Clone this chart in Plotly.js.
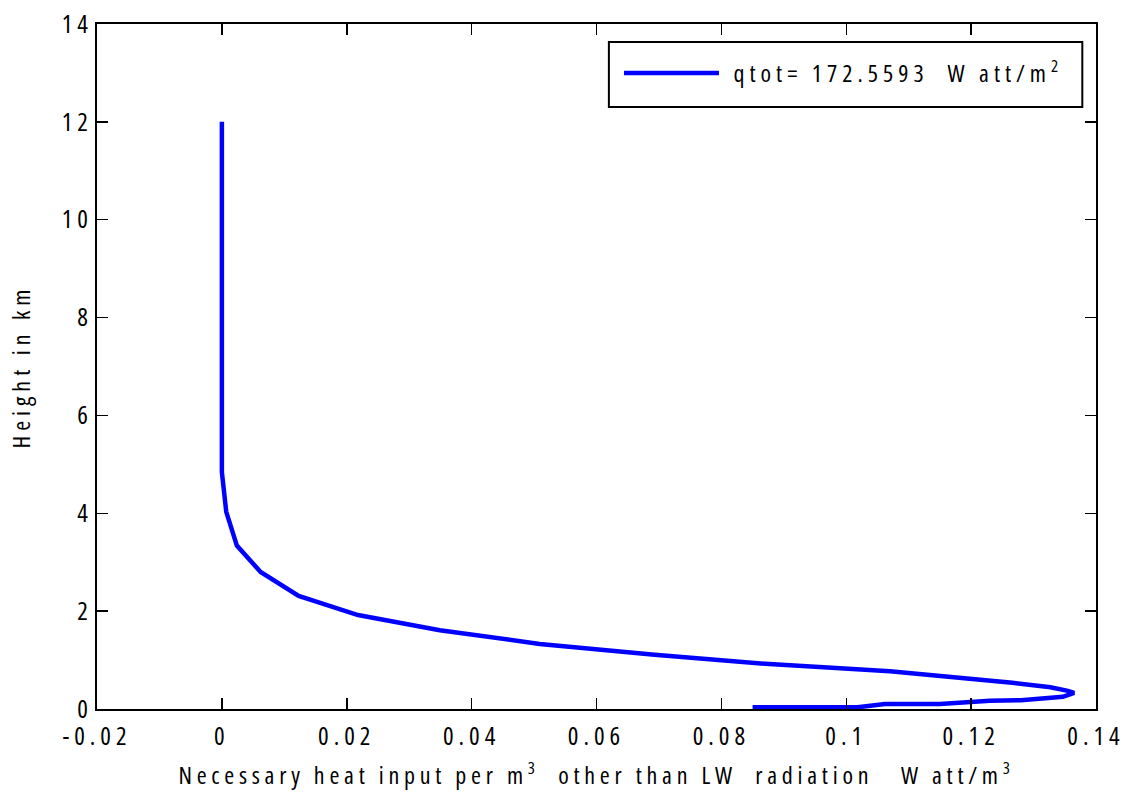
<!DOCTYPE html>
<html>
<head>
<meta charset="utf-8">
<script src="https://cdn.plot.ly/plotly-3.0.1.min.js"></script>
<style>
  html, body { margin: 0; padding: 0; background: #fff; }
  #chart { width: 1125px; height: 803px; }
  /* condensed, spaced-out lettering for every svg label */
  svg text { font-stretch: 75%; letter-spacing: 5px; }
  .g-xtitle text { letter-spacing: 4.75px; }
</style>
</head>
<body>
<div id="chart"></div>
<script>
// Height of each model level (km), from the lowest level upward
const heightKm = [0.035, 0.035, 0.10, 0.10, 0.17, 0.18, 0.25, 0.33, 0.37, 0.446, 0.535, 0.64,
                  0.77, 0.925, 1.11, 1.33, 1.61, 1.92, 2.31, 2.80, 3.34, 4.03, 4.84, 12.0];
// Necessary heat input per m^3 other than LW radiation (W/m^3) at each level
const heatInput = [0.0850, 0.1018, 0.1062, 0.1150, 0.1230, 0.1280, 0.1347, 0.1365, 0.1355, 0.1327,
                   0.1266, 0.1179, 0.1070, 0.0870, 0.0693, 0.0509, 0.0349, 0.0218, 0.0123, 0.0062,
                   0.0024, 0.0007, 0, 0];

const xTickVals = [-0.02, 0, 0.02, 0.04, 0.06, 0.08, 0.1, 0.12, 0.14];
const xTickText = ['-0.02', '0', '0.02', '0.04', '0.06', '0.08', '0.1', '0.12', '0.14'];
const yTickVals = [0, 2, 4, 6, 8, 10, 12, 14];
const yTickText = ['0', '2', '4', '6', '8', '10', '12', '14'];

const seriesName = ' qtot= 172.5593  W att/m<sup>2</sup>';
const xTitle = 'Necessary heat input per m<sup>3</sup>  other than LW  radiation   W att/m<sup>3</sup>';
const yTitle = 'Height in km';

const FONT = '"Open Sans", sans-serif';

const trace = {
  x: heatInput,
  y: heightKm,
  type: 'scatter',
  mode: 'lines',
  name: seriesName,
  line: { color: '#0000ff', width: 4.5 },
  showlegend: true
};

const axisCommon = {
  showline: true,
  linecolor: '#000',
  linewidth: 2,
  mirror: 'ticks',
  ticks: 'inside',
  ticklen: 11,
  tickwidth: 1.5,
  tickcolor: '#000',
  showgrid: false,
  zeroline: false,
  ticklabeloverflow: 'allow',
  tickfont: { family: FONT, size: 25, color: '#000' }
};

const layout = {
  width: 1125,
  height: 803,
  paper_bgcolor: '#fff',
  plot_bgcolor: '#fff',
  margin: { l: 97, r: 29, t: 24, b: 94 },
  font: { family: FONT, color: '#000' },
  showlegend: true,
  xaxis: Object.assign({}, axisCommon, {
    range: [-0.02, 0.14],
    tickmode: 'array',
    tickvals: xTickVals,
    ticktext: xTickText,
    ticklabelstandoff: 4,
    title: { text: xTitle, font: { family: FONT, size: 24, color: '#000' }, standoff: 16 }
  }),
  yaxis: Object.assign({}, axisCommon, {
    range: [0, 14],
    tickmode: 'array',
    tickvals: yTickVals,
    ticktext: yTickText,
    ticklabelstandoff: -3,
    title: { text: yTitle, font: { family: FONT, size: 24, color: '#000' }, standoff: 24 }
  }),
  // frame around the legend entry
  shapes: [{
    type: 'rect', xref: 'paper', yref: 'paper',
    x0: 0.5124, x1: 0.9863, y0: 0.8788, y1: 0.9737,
    line: { color: '#000', width: 2 },
    fillcolor: '#fff',
    layer: 'above'
  }],
  legend: {
    x: 0.5225,
    y: 0.928,
    xanchor: 'left',
    yanchor: 'middle',
    bgcolor: 'rgba(0,0,0,0)',
    borderwidth: 0,
    itemwidth: 95,
    font: { family: FONT, size: 24, color: '#000' }
  }
};

Plotly.newPlot('chart', [trace], layout, { displayModeBar: false, staticPlot: true });
</script>
</body>
</html>
